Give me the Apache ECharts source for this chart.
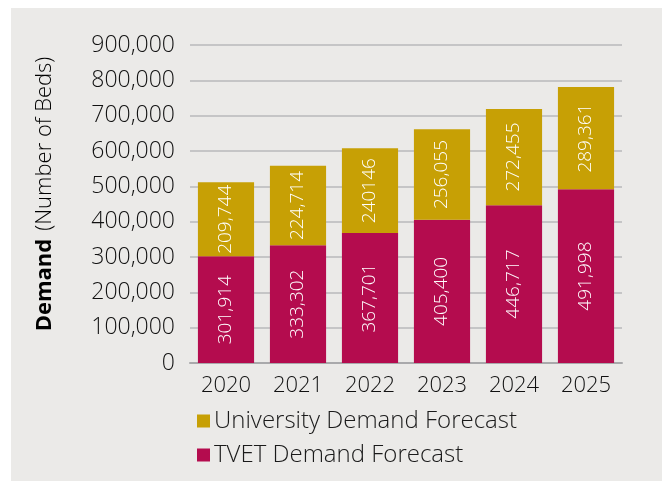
<!DOCTYPE html>
<html>
<head>
<meta charset="utf-8">
<script src="https://cdn.jsdelivr.net/npm/echarts@6/dist/echarts.min.js"></script>
<style>
  html, body { margin: 0; padding: 0; background: #ffffff; }
  #frame { position: absolute; left: 11px; top: 8px; width: 651px; height: 473px; background: #ebeae8; }
  #chart { position: absolute; left: 0; top: 0; width: 671px; height: 481px; }
</style>
</head>
<body>
<div id="frame"></div>
<div id="chart"></div>
<script>
// Bed demand forecast by year
const years = ['2020', '2021', '2022', '2023', '2024', '2025'];
const tvetLabels = ['301,914', '333,302', '367,701', '405,400', '446,717', '491,998'];
const universityLabels = ['209,744', '224,714', '240146', '256,055', '272,455', '289,361'];
const tvetValues = tvetLabels.map(s => Number(s.replace(/,/g, '')));
const universityValues = universityLabels.map(s => Number(s.replace(/,/g, '')));

const FONT = 'Open Sans';
const LIGHT = 300;
const GOLD = '#c7a005';
const CRIMSON = '#b40c4e';

const chart = echarts.init(document.getElementById('chart'), null, { renderer: 'canvas' });

const barLabel = (texts) => ({
  show: true,
  position: 'inside',
  rotate: 90,
  color: '#ffffff',
  fontFamily: FONT,
  fontWeight: LIGHT,
  fontSize: 19,
  formatter: p => texts[p.dataIndex]
});

chart.setOption({
  backgroundColor: 'transparent',
  animation: false,
  textStyle: { fontFamily: FONT },
  grid: { left: 190, right: 49, top: 45, bottom: 118 },
  legend: {
    orient: 'vertical',
    left: 192,
    top: 404,
    itemWidth: 13,
    itemHeight: 13,
    itemGap: 10,
    icon: 'rect',
    textStyle: { fontFamily: FONT, fontWeight: LIGHT, fontSize: 24, color: '#1a1a1a', padding: [0, 0, 0, -1] },
    data: ['University Demand Forecast', 'TVET Demand Forecast']
  },
  xAxis: {
    type: 'category',
    data: years,
    axisLine: { show: true, lineStyle: { color: '#a9a9ab', width: 2 } },
    axisTick: { show: false },
    axisLabel: { color: '#111', fontFamily: FONT, fontWeight: LIGHT, fontSize: 22, margin: 12 }
  },
  yAxis: {
    type: 'value',
    min: 0,
    max: 900000,
    interval: 100000,
    name: '{b|Demand}{s|}{n|(Number of Beds)}',
    nameLocation: 'middle',
    nameGap: 134,
    nameTextStyle: {
      padding: [0, 0, 0, 20],
      rich: {
        b: { fontFamily: FONT, fontWeight: 'bold', fontSize: 22, color: '#000' },
        s: { width: 8 },
        n: { fontFamily: FONT, fontWeight: LIGHT, fontSize: 22, color: '#000' }
      }
    },
    axisLine: { show: false },
    axisTick: { show: false },
    splitLine: { lineStyle: { color: '#b9b9bb', width: 1.5 } },
    axisLabel: {
      color: '#111',
      fontFamily: FONT,
      fontWeight: LIGHT,
      fontSize: 23,
      margin: 15,
      formatter: v => v.toLocaleString('en-US')
    }
  },
  series: [
    {
      name: 'TVET Demand Forecast',
      type: 'bar',
      stack: 'demand',
      barCategoryGap: '22%',
      itemStyle: { color: CRIMSON },
      label: barLabel(tvetLabels),
      data: tvetValues
    },
    {
      name: 'University Demand Forecast',
      type: 'bar',
      stack: 'demand',
      barCategoryGap: '22%',
      itemStyle: { color: GOLD },
      label: barLabel(universityLabels),
      data: universityValues
    }
  ]
});
</script>
</body>
</html>
